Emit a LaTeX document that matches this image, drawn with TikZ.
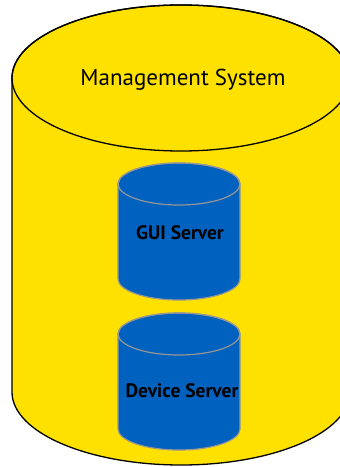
\documentclass[tikz,border=0pt]{standalone}
\usepackage{fontspec}
\setmainfont{PT Sans}
\usepackage{tikz}
\definecolor{sysyellow}{RGB}{255,225,0}
\definecolor{srvblue}{RGB}{0,97,191}
\definecolor{srvgray}{RGB}{150,150,150}

\begin{document}
\begin{tikzpicture}[x=1pt,y=1pt]
	\clip (0,0) rectangle (340,467);
	\fill[white] (0,0) rectangle (340,467);
	% management system drum
	\filldraw[fill=sysyellow,draw=black,line width=1.3pt]
		(12,389) -- (12,75) arc[start angle=180,end angle=360,x radius=169,y radius=73]
		-- (350,389) arc[start angle=0,end angle=180,x radius=169,y radius=73] -- cycle;
	\draw[black,line width=1.3pt] (181,389) ellipse[x radius=169,y radius=73];
	% servers
	\begin{scope}[fill=srvblue,draw=srvgray,line width=1.2pt]
		\filldraw (118,283) -- (118,188) arc[start angle=180,end angle=360,x radius=61,y radius=21]
			-- (240,283) arc[start angle=0,end angle=180,x radius=61,y radius=21] -- cycle;
		\draw (179,283) ellipse[x radius=61,y radius=21];
		\filldraw (118,133) -- (118,38) arc[start angle=180,end angle=360,x radius=61,y radius=21]
			-- (240,133) arc[start angle=0,end angle=180,x radius=61,y radius=21] -- cycle;
		\draw (179,133) ellipse[x radius=61,y radius=21];
	\end{scope}
	\begin{scope}[every node/.style={inner sep=0pt,text=black}]
		\node[font=\fontsize{23}{26}\selectfont] (mgmt) at (183,387) {Management System};
		\node[font=\fontsize{19.5}{22}\selectfont\bfseries] (gui) at (180,234) {GUI Server};
		\node[font=\fontsize{19.5}{22}\selectfont\bfseries] (dev) at (182,76) {Device Server};
	\end{scope}
\end{tikzpicture}
\end{document}
